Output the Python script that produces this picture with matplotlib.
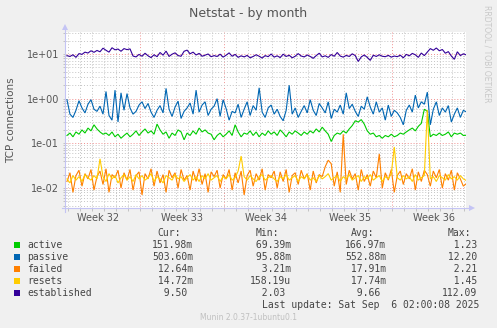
#!/usr/bin/env python

import numpy as np
import matplotlib
matplotlib.use('Agg')
from matplotlib import pyplot as plt
from matplotlib.lines import Line2D
from matplotlib.patches import Polygon, Rectangle

# samples every 6 hours over the month window
active = [
    0.15, 0.17, 0.14, 0.18, 0.16, 0.20, 0.17, 0.22, 0.19, 0.26,
    0.21, 0.18, 0.16, 0.17, 0.15, 0.18, 0.14, 0.16, 0.13, 0.15,
    0.17, 0.14, 0.16, 0.19, 0.15, 0.18, 0.21, 0.17, 0.19, 0.16,
    0.27, 0.20, 0.16, 0.18, 0.13, 0.17, 0.15, 0.20, 0.18, 0.12,
    0.17, 0.15, 0.19, 0.16, 0.22, 0.18, 0.20, 0.17, 0.16, 0.12,
    0.15, 0.17, 0.14, 0.16, 0.19, 0.15, 0.26, 0.18, 0.14, 0.17,
    0.16, 0.19, 0.15, 0.18, 0.14, 0.17, 0.15, 0.19, 0.16, 0.18,
    0.15, 0.20, 0.17, 0.14, 0.18, 0.16, 0.19, 0.17, 0.15, 0.18,
    0.16, 0.19, 0.17, 0.21, 0.18, 0.23, 0.19, 0.16, 0.11, 0.15,
    0.17, 0.16, 0.19, 0.17, 0.21, 0.25, 0.32, 0.30, 0.34, 0.27,
    0.19, 0.16, 0.17, 0.14, 0.15, 0.13, 0.15, 0.14, 0.16, 0.14,
    0.15, 0.17, 0.16, 0.18, 0.20, 0.22, 0.19, 0.24, 0.28, 0.58,
    0.52, 0.14, 0.16, 0.15, 0.17, 0.15, 0.16, 0.18, 0.14, 0.17,
    0.16, 0.17, 0.15, 0.152,
]
passive = [
    0.95, 0.45, 0.38, 0.55, 0.90, 0.62, 0.48, 0.75, 0.95, 0.58,
    0.52, 0.68, 0.45, 1.45, 0.42, 0.33, 1.55, 0.30, 1.35, 0.55,
    1.30, 0.62, 0.45, 0.52, 0.72, 0.85, 0.60, 0.78, 0.50, 0.38,
    0.55, 0.70, 0.48, 1.70, 0.58, 0.40, 0.65, 0.88, 0.36, 0.52,
    0.62, 0.80, 0.45, 1.55, 0.50, 0.72, 0.85, 0.42, 0.58, 0.68,
    1.00, 0.40, 0.95, 0.60, 0.33, 0.52, 0.48, 0.75, 0.38, 0.58,
    0.85, 0.42, 0.70, 0.55, 1.75, 0.50, 0.38, 0.62, 0.72, 0.45,
    0.58, 0.40, 0.32, 0.55, 2.00, 0.45, 0.62, 0.38, 0.52, 0.70,
    0.48, 0.95, 0.55, 0.42, 0.78, 0.62, 0.48, 0.85, 0.36, 0.58,
    0.50, 0.72, 0.45, 1.35, 0.60, 0.75, 0.52, 0.40, 0.68, 0.58,
    1.10, 0.65, 0.45, 0.85, 0.50, 0.62, 0.33, 0.72, 0.40, 0.55,
    0.48, 0.38, 0.26, 0.55, 0.72, 0.50, 1.20, 0.62, 0.85, 0.75,
    1.40, 0.26, 0.58, 0.85, 0.42, 0.62, 0.50, 0.70, 0.30, 0.45,
    0.62, 0.38, 0.55, 0.504,
]
failed = [
    0.014, 0.022, 0.008, 0.019, 0.025, 0.011, 0.021, 0.016, 0.026, 0.009,
    0.018, 0.024, 0.012, 0.027, 0.008, 0.020, 0.017, 0.025, 0.010, 0.022,
    0.015, 0.026, 0.009, 0.019, 0.023, 0.007, 0.021, 0.016, 0.027, 0.011,
    0.024, 0.013, 0.020, 0.008, 0.025, 0.017, 0.022, 0.010, 0.026, 0.015,
    0.019, 0.009, 0.024, 0.014, 0.027, 0.012, 0.021, 0.008, 0.023, 0.018,
    0.025, 0.010, 0.020, 0.016, 0.026, 0.009, 0.022, 0.013, 0.024, 0.007,
    0.019, 0.025, 0.011, 0.021, 0.015, 0.027, 0.009, 0.020, 0.017, 0.024,
    0.010, 0.023, 0.014, 0.026, 0.008, 0.019, 0.022, 0.012, 0.025, 0.016,
    0.021, 0.009, 0.024, 0.013, 0.020, 0.018, 0.030, 0.042, 0.035, 0.011,
    0.023, 0.008, 0.160, 0.012, 0.025, 0.016, 0.021, 0.009, 0.026, 0.014,
    0.020, 0.011, 0.024, 0.017, 0.058, 0.010, 0.022, 0.015, 0.026, 0.008,
    0.019, 0.024, 0.012, 0.021, 0.016, 0.027, 0.009, 0.023, 0.014, 0.025,
    0.020, 0.011, 0.024, 0.017, 0.026, 0.010, 0.021, 0.015, 0.025, 0.009,
    0.022, 0.016, 0.011, 0.0126,
]
resets = [
    0.016, 0.013, 0.019, 0.015, 0.018, 0.014, 0.020, 0.017, 0.015, 0.019,
    0.016, 0.045, 0.018, 0.014, 0.021, 0.016, 0.019, 0.013, 0.017, 0.020,
    0.015, 0.018, 0.014, 0.020, 0.016, 0.019, 0.015, 0.017, 0.021, 0.014,
    0.018, 0.016, 0.013, 0.019, 0.017, 0.015, 0.020, 0.016, 0.018, 0.014,
    0.017, 0.020, 0.015, 0.018, 0.014, 0.019, 0.016, 0.021, 0.015, 0.017,
    0.019, 0.014, 0.018, 0.016, 0.020, 0.015, 0.017, 0.024, 0.052, 0.018,
    0.015, 0.019, 0.016, 0.014, 0.018, 0.020, 0.015, 0.017, 0.019, 0.016,
    0.014, 0.018, 0.016, 0.020, 0.015, 0.017, 0.019, 0.014, 0.018, 0.016,
    0.020, 0.015, 0.017, 0.014, 0.019, 0.016, 0.018, 0.021, 0.015, 0.017,
    0.019, 0.014, 0.018, 0.016, 0.020, 0.015, 0.017, 0.019, 0.014, 0.018,
    0.016, 0.020, 0.015, 0.017, 0.019, 0.014, 0.018, 0.016, 0.021, 0.083,
    0.017, 0.015, 0.019, 0.016, 0.018, 0.014, 0.020, 0.015, 0.017, 0.019,
    0.560, 0.016, 0.018, 0.014, 0.019, 0.017, 0.015, 0.020, 0.016, 0.018,
    0.015, 0.019, 0.016, 0.0147,
]
established = [
    9.2, 8.8, 9.6, 8.4, 10.2, 9.8, 11.0, 10.5, 11.8, 10.9,
    12.0, 11.2, 13.5, 12.1, 11.0, 13.8, 12.4, 12.9, 11.5, 13.2,
    12.5, 13.0, 9.0, 8.6, 9.8, 8.9, 10.4, 9.1, 8.3, 9.6,
    8.7, 10.8, 9.4, 11.6, 8.8, 9.9, 10.6, 9.2, 8.9, 11.5,
    12.2, 10.1, 11.0, 9.5, 10.3, 8.9, 9.4, 10.0, 8.7, 9.2,
    8.8, 9.9, 8.5, 9.4, 10.6, 8.9, 9.8, 8.4, 9.1, 8.6,
    9.3, 8.2, 8.8, 9.6, 8.9, 8.1, 9.2, 8.7, 10.0, 8.5,
    9.1, 8.3, 9.9, 8.8, 9.4, 8.2, 8.9, 10.2, 9.0, 8.6,
    9.5, 8.8, 8.0, 9.2, 10.4, 8.6, 9.1, 8.4, 9.7, 8.9,
    10.8, 9.0, 8.5, 9.3, 8.8, 10.1, 9.2, 6.8, 8.6, 9.5,
    8.4, 7.2, 9.4, 8.8, 9.6, 8.9, 8.7, 9.3, 8.5, 9.0,
    8.7, 9.4, 8.2, 9.8, 9.1, 10.3, 9.6, 8.4, 10.5, 9.2,
    11.0, 13.2, 12.1, 13.6, 11.8, 12.6, 10.4, 11.3, 9.0, 7.6,
    11.2, 9.2, 10.1, 9.5,
]

names = ['active', 'passive', 'failed', 'resets', 'established']
colors = ['#00CC00', '#0066B3', '#FF8000', '#FFCC00', '#330099']
cur = ['151.98m', '503.60m', ' 12.64m', ' 14.72m', '  9.50 ']
vmin = [' 69.39m', ' 95.88m', '  3.21m', '158.19u', '  2.03 ']
avg = ['166.97m', '552.88m', ' 17.91m', ' 17.74m', '  9.66 ']
vmax = ['  1.23 ', ' 12.20 ', '  2.21 ', '  1.45 ', '112.09 ']
weeks = ['Week 32', 'Week 33', 'Week 34', 'Week 35', 'Week 36']

W, H = 497, 328
BG = '#F0F0F0'
TXT = '#555555'
AXC = '#C4C4F4'


def px(x, y):
    return x / W, 1 - y / H


fig = plt.figure(figsize=(W / 100, H / 100), dpi=100, facecolor=BG)
ax = fig.add_axes([66 / W, 1 - 208 / H, 400 / W, 176 / H])
ax.set_facecolor('white')

days = np.arange(len(established)) * 6 / 24 + 0.08
series = [active, passive, failed, resets, established]
for vals, c in zip(series, colors):
    ax.plot(days, vals, color=c, lw=0.8, solid_joinstyle='miter')

ax.set_yscale('log')
ax.set_ylim(10 ** -2.447, 10 ** 1.492)
ax.set_xlim(0, 33.3)

# grid: days grey, week boundaries red; log minors grey, decades red
dots = (0, (1, 2))
first_week = 6.15
for d in np.arange(first_week - 6, 33.3, 1.0):
    is_week = abs((d - first_week) % 7) < 1e-6
    ax.axvline(d, color='#F09090' if is_week else '#C4C4C4', lw=0.7, ls=dots, zorder=0)
for dec in [1e-3, 1e-2, 1e-1, 1, 10]:
    for m in range(2, 10):
        ax.axhline(dec * m, color='#C4C4C4', lw=0.7, ls=dots, zorder=0)
for dec in [1e-2, 1e-1, 1, 10]:
    ax.axhline(dec, color='#F09090', lw=0.7, ls=dots, zorder=0)

for s in ax.spines.values():
    s.set_visible(False)

ax.set_yticks([1e-2, 1e-1, 1, 10])
ax.set_yticklabels(['1e-02', '1e-01', '1e+00', '1e+01'])
ax.yaxis.set_minor_locator(plt.FixedLocator(
    [d * m for d in [1e-3, 1e-2, 1e-1, 1, 10] for m in range(2, 10)]))
ax.yaxis.set_minor_formatter(plt.NullFormatter())
ax.set_xticks(np.arange(first_week - 6, 33.3, 1.0))
ax.set_xticklabels([])
ax.tick_params(axis='both', which='both', length=2, width=0.6, color='#BBBBBB',
               labelsize=7, labelcolor=TXT, pad=3)

week_pos = [first_week - 3.5 + 7 * k for k in range(5)]
for pos, lab in zip(week_pos, weeks):
    ax.text(pos, -0.055, lab, transform=ax.get_xaxis_transform(), ha='center',
            va='center', fontsize=7, color=TXT)

# axis lines with arrow heads
fig.add_artist(Line2D(*zip(px(65, 212), px(65, 28)), color=AXC, lw=0.8))
fig.add_artist(Line2D(*zip(px(62, 208), px(470, 208)), color=AXC, lw=0.8))
fig.add_artist(Polygon([px(62, 30), px(68, 30), px(65, 24)], closed=True,
                       color=AXC, lw=0))
fig.add_artist(Polygon([px(469, 205), px(469, 211), px(475, 208)], closed=True,
                       color=AXC, lw=0))

fig.text(*px(248, 13), 'Netstat - by month', ha='center', va='center',
         fontsize=9, color=TXT)
fig.text(*px(11, 120), 'TCP connections', ha='center', va='center',
         rotation=90, fontsize=7.5, color=TXT)
fig.text(*px(487, 5), 'RRDTOOL / TOBI OETIKER', ha='center', va='top',
         rotation=-90, fontsize=5.5, color='#C8C8C8')

# legend table
mono = dict(family='DejaVu Sans Mono', fontsize=7, color='#444444', va='center')
cols = [152, 250, 345, 442]
for x, head in zip(cols, ['Cur:', 'Min:', 'Avg:', 'Max:']):
    fig.text(*px(x + 5.5, 233), head, **mono)
rows = [244.5, 256.5, 268.5, 280.5, 292.5]
for y, name, c, *vals in zip(rows, names, colors, cur, vmin, avg, vmax):
    fig.add_artist(Rectangle(px(14, y + 3), 6 / W, 6 / H, color=c, lw=0))
    fig.text(*px(27, y), name, **mono)
    for x, v in zip(cols, vals):
        fig.text(*px(x, y), v.rstrip(), **mono)

fig.text(*px(262, 304.5), 'Last update: Sat Sep  6 02:00:08 2025', **mono)
fig.text(*px(248, 317), 'Munin 2.0.37-1ubuntu0.1', ha='center', va='center',
         fontsize=5.5, color='#C0C0C0')

fig.savefig('out.png', dpi=100, facecolor=BG)
